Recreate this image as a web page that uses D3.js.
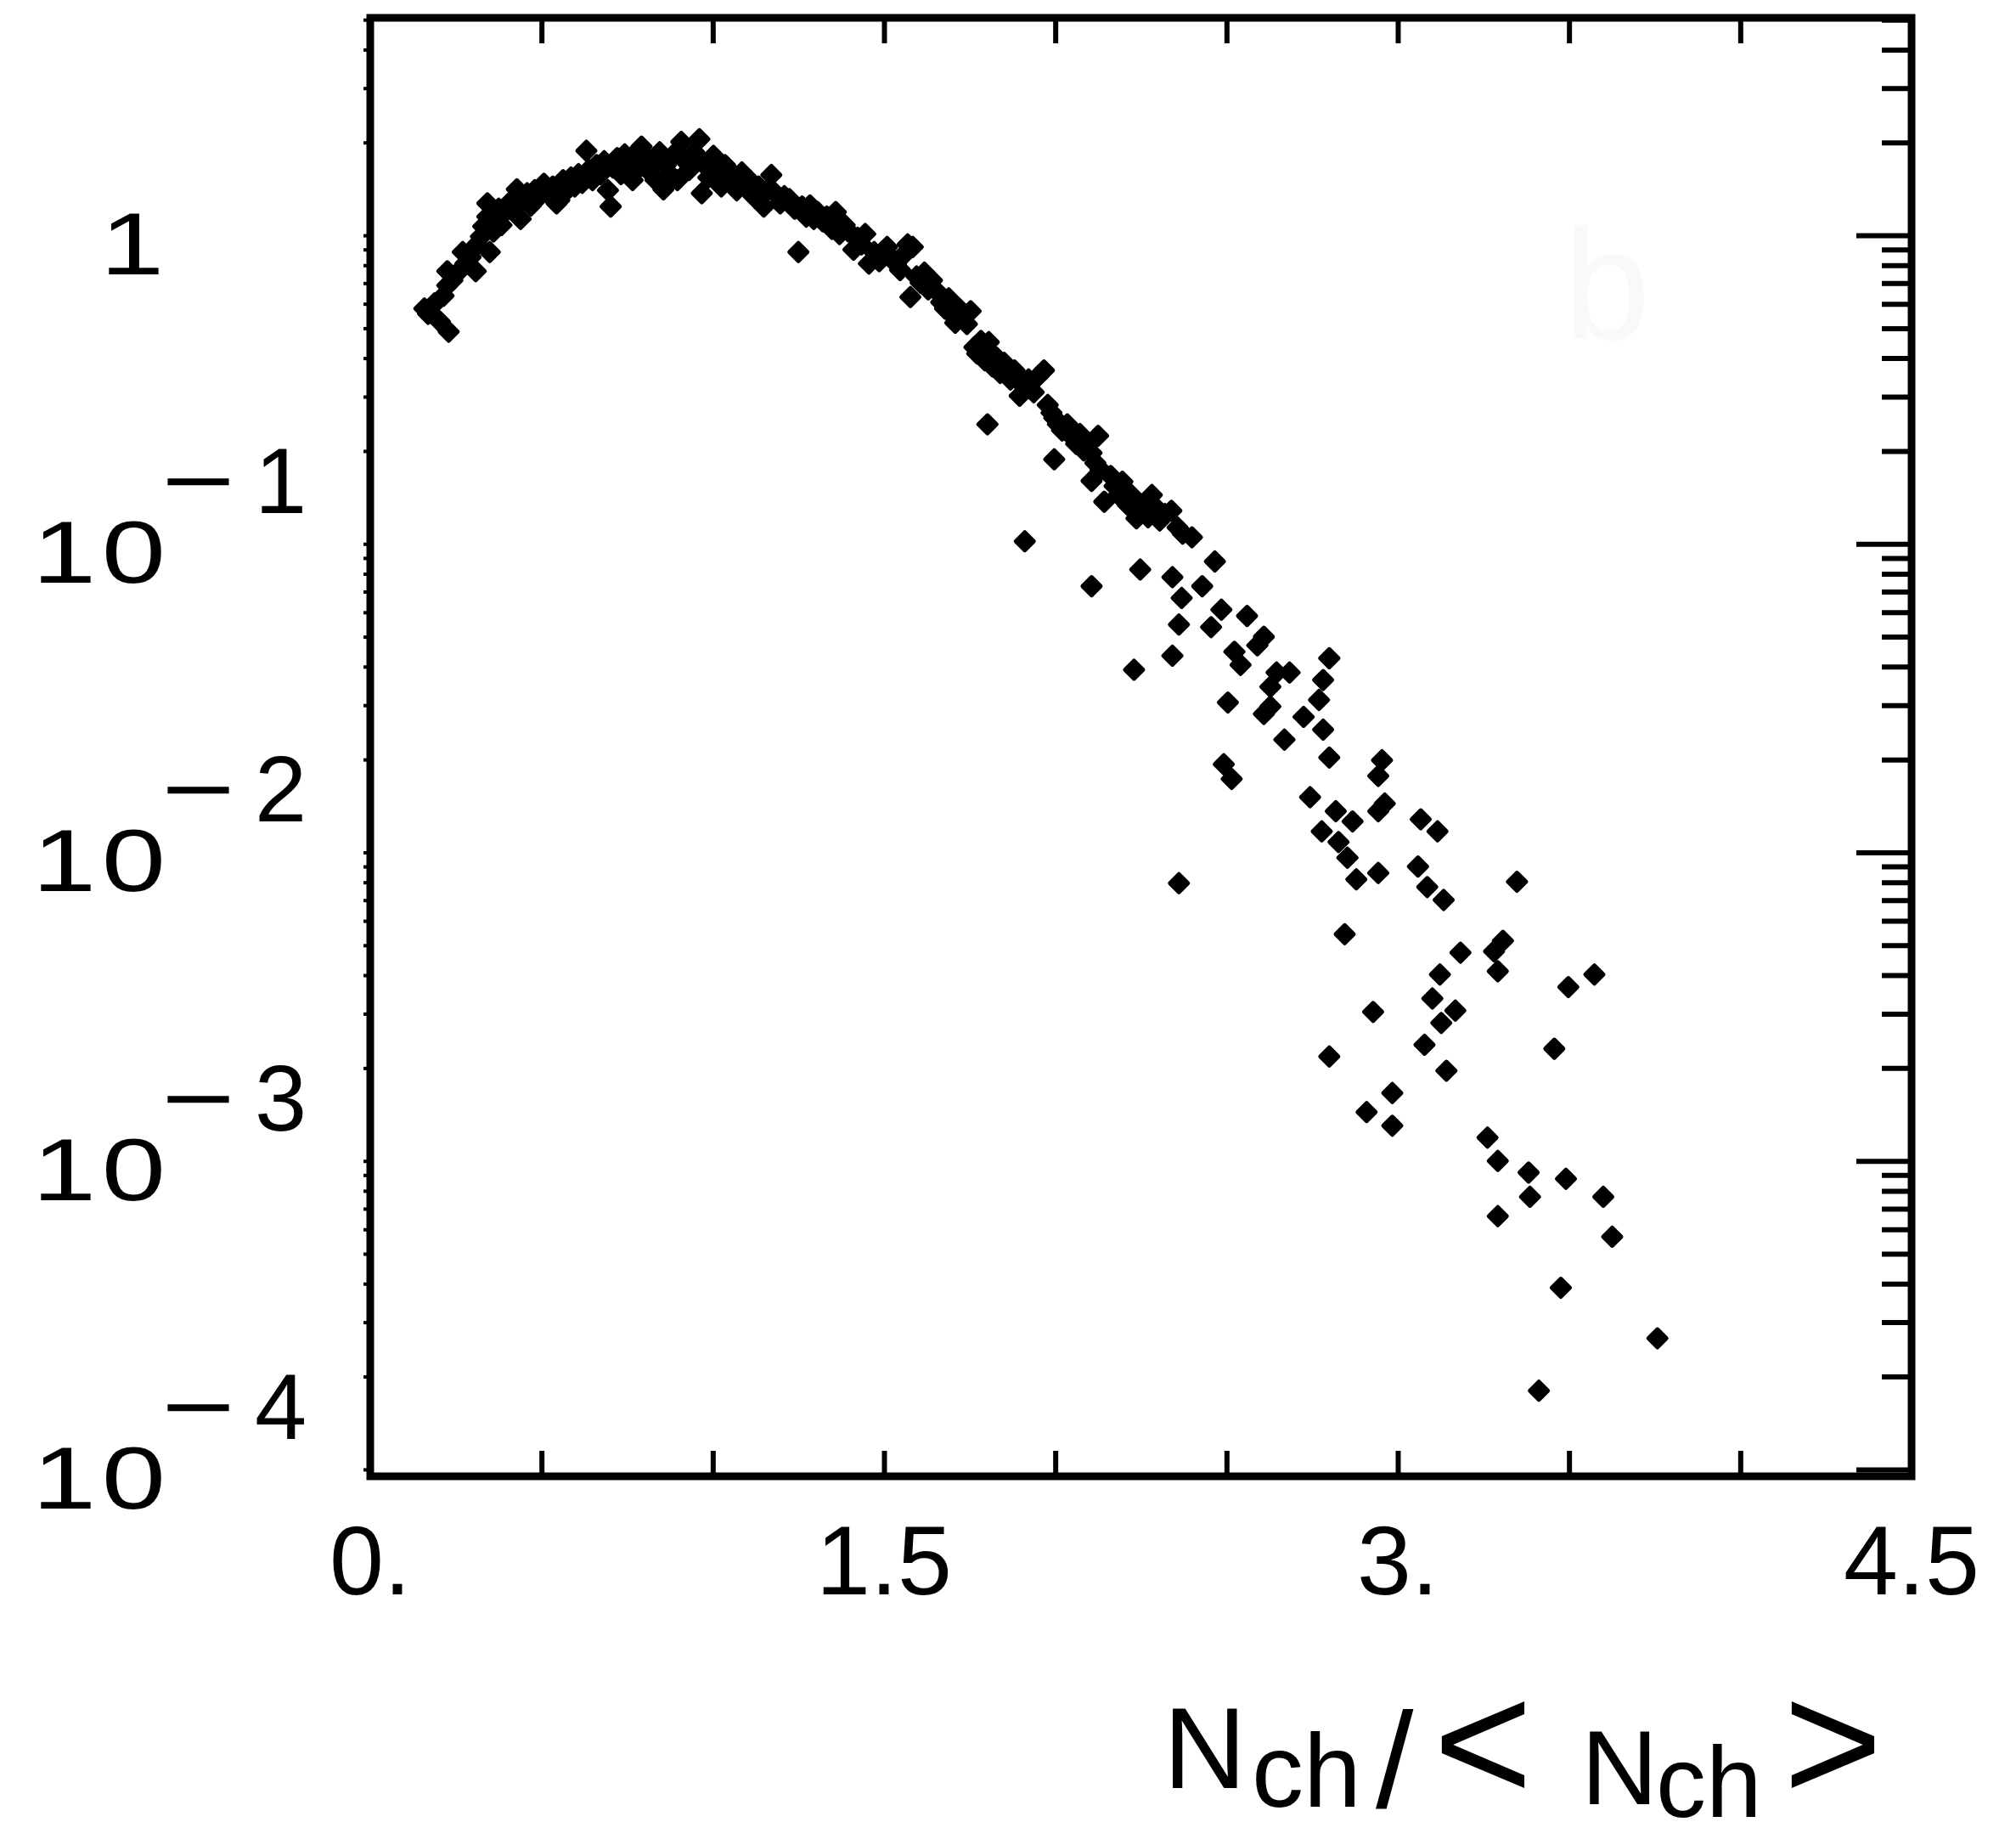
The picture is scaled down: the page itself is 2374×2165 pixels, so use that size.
<!DOCTYPE html>
<html>
<head>
<meta charset="utf-8">
<script src="https://cdn.jsdelivr.net/npm/d3@7/dist/d3.min.js"></script>
<style>
  body { margin: 0; background: #ffffff; }
  text { font-family: "Liberation Sans", Arial, sans-serif; fill: #000; }
</style>
</head>
<body>
<div id="chart_box"></div>
<script>
// N_ch / <N_ch> for each point
var xValues = [
  0.158, 0.169, 0.188, 0.203, 0.229, 0.214, 0.225, 0.240, 0.255, 0.225,
  0.270, 0.278, 0.293, 0.308, 0.312, 0.323, 0.330, 0.342, 0.342, 0.349, 0.360, 0.368, 0.375, 0.383,
  0.394, 0.405, 0.420, 0.428, 0.439, 0.447, 0.458, 0.469, 0.480, 0.492, 0.507,
  0.518, 0.533, 0.544, 0.552, 0.563, 0.574, 0.586, 0.597, 0.608, 0.619, 0.631, 0.638, 0.649, 0.661, 0.672, 0.683,
  0.694, 0.702, 0.709, 0.721, 0.732, 0.743, 0.755, 0.766, 0.777, 0.785, 0.792, 0.803, 0.815, 0.826, 0.833,
  0.845, 0.856, 0.863, 0.875, 0.886, 0.897, 0.908, 0.920, 0.931, 0.946, 0.961, 0.968, 0.976, 0.987, 1.002, 1.014,
  1.025, 1.036, 1.047, 1.059, 1.070, 1.085, 1.096, 1.107, 1.119, 1.134, 1.149, 1.160, 1.171, 1.182, 1.197, 1.209, 1.224,
  1.239, 1.250, 1.261, 1.273, 1.284, 1.295, 1.306, 1.321, 1.333, 1.348, 1.359, 1.370, 1.385, 1.396, 1.411, 1.423, 1.434, 1.445, 1.456, 1.471,
  1.486, 1.498, 1.509, 1.520, 1.535, 1.547, 1.558, 1.569, 1.577, 1.584, 1.595, 1.607, 1.618, 1.629, 1.640, 1.655, 1.667, 1.678, 1.689, 1.700, 1.708, 1.719, 1.730, 1.742, 1.753,
  1.764, 1.772, 1.783, 1.794, 1.806, 1.817, 1.828, 1.839, 1.851, 1.869, 1.881, 1.896, 1.907, 1.922, 1.937, 1.952, 1.967, 1.978, 1.989, 1.997, 2.008, 2.020, 2.035, 1.802,
  2.050, 2.061, 2.072, 2.083, 2.095, 2.106, 2.106, 2.117, 2.125, 2.132, 2.143, 2.162, 2.173, 2.185, 2.196, 2.211, 2.222, 2.237, 2.237, 2.248, 2.260, 2.271, 2.282, 2.294, 2.305, 2.320, 2.339, 2.357, 2.372, 2.399,
  1.997, 1.911, 2.106,
  2.248, 2.466, 2.342, 2.429, 2.369, 2.485, 2.560, 2.361, 2.455, 2.609, 2.590, 2.523, 2.541, 2.342, 2.230, 2.646, 2.684, 2.800,
  2.628, 2.782, 2.770, 2.504, 2.628, 2.609, 2.725, 2.782, 2.669, 2.800, 2.492, 2.515, 2.954, 2.943, 2.744, 2.962,
  2.819, 2.943, 2.868, 2.778, 2.827, 2.853, 2.879, 2.943, 3.067, 3.116, 3.059, 3.086, 3.134, 3.348, 2.845,
  3.307, 3.281, 3.292, 3.183, 3.123, 3.574, 3.498, 3.101, 3.168, 2.928, 3.127, 3.078, 3.142, 2.800, 3.457,
  2.984, 2.909, 2.984, 3.262, 3.292, 3.382, 3.491, 3.386, 3.600, 3.292, 3.626, 3.476, 3.758, 3.412, 2.361
];

// normalised probability for each point
var yValues = [
  0.579, 0.557, 0.602, 0.526, 0.487, 0.637, 0.688, 0.715, 0.757, 0.765,
  0.883, 0.810, 0.850, 0.765, 0.935, 0.991, 1.07, 1.15, 1.27, 0.883, 1.03, 1.13, 1.22, 1.08,
  1.19, 1.27, 1.25, 1.41, 1.13, 1.31, 1.37, 1.25, 1.40, 1.33, 1.47,
  1.37, 1.44, 1.27, 1.30, 1.51, 1.40, 1.54, 1.44, 1.58, 1.48, 1.88, 1.63, 1.51, 1.69, 1.58, 1.74,
  1.40, 1.24, 1.66, 1.78, 1.58, 1.83, 1.69, 1.51, 1.86, 1.66, 1.94, 1.80, 1.61, 1.74, 1.51,
  1.86, 1.41, 1.69, 1.58, 1.83, 1.51, 2.01, 1.74, 1.63, 1.86, 2.05, 1.37, 1.69, 1.54, 1.81, 1.63,
  1.44, 1.69, 1.51, 1.58, 1.40, 1.60, 1.44, 1.51, 1.34, 1.44, 1.24, 1.40, 1.57, 1.37, 1.27, 1.34, 1.31,
  1.22, 0.883, 1.24, 1.15, 1.25, 1.13, 1.19, 1.11, 1.15, 1.05, 1.19, 1.01, 1.08, 1.03, 0.899, 0.982, 0.935, 1.01, 0.810, 0.883,
  0.825, 0.891, 0.917, 0.850, 0.810, 0.772, 0.866, 0.935, 0.631, 0.917, 0.736, 0.701, 0.757, 0.668, 0.715, 0.656, 0.607, 0.579, 0.625, 0.552, 0.521, 0.579, 0.541, 0.516, 0.568,
  0.434, 0.414, 0.455, 0.394, 0.451, 0.376, 0.402, 0.358, 0.386, 0.341, 0.365, 0.302, 0.325, 0.341, 0.310, 0.351, 0.365, 0.282, 0.266, 0.256, 0.244, 0.233, 0.244, 0.244,
  0.222, 0.211, 0.227, 0.201, 0.211, 0.197, 0.160, 0.183, 0.224, 0.174, 0.137, 0.166, 0.154, 0.144, 0.159, 0.134, 0.144, 0.130, 0.121, 0.134, 0.128, 0.122, 0.144, 0.131, 0.119, 0.125, 0.128, 0.113, 0.108, 0.105,
  0.188, 0.102, 0.0729,
  0.0826, 0.0877, 0.0780, 0.0729, 0.0668, 0.0612, 0.0584, 0.0548, 0.0537, 0.0500, 0.0469, 0.0447, 0.0405, 0.0434, 0.0391, 0.0383, 0.0383, 0.0426,
  0.0344, 0.0362, 0.0312, 0.0306, 0.0297, 0.0281, 0.0275, 0.0250, 0.0232, 0.0203, 0.0193, 0.0173, 0.0199, 0.0177, 0.0151, 0.0144,
  0.0136, 0.0136, 0.0126, 0.0117, 0.0108, 0.00961, 0.00818, 0.00858, 0.0128, 0.0117, 0.00900, 0.00772, 0.00701, 0.00803, 0.00543,
  0.00517, 0.00478, 0.00412, 0.00473, 0.00402, 0.00402, 0.00366, 0.00336, 0.00307, 0.00304, 0.00280, 0.00238, 0.00196, 0.00218, 0.00231,
  0.00166, 0.00144, 0.00130, 0.00119, 0.00100, 0.000917, 0.000875, 0.000765, 0.000765, 0.000662, 0.000568, 0.000388, 0.000266, 0.000180, 0.00795
];

var xTickValues = [0, 1.5, 3, 4.5];
var xTickLabels = ["0.", "1.5", "3.", "4.5"];
var yTickValues = [1, 1e-1, 1e-2, 1e-3, 1e-4];
var yTickExponents = ["", "1", "2", "3", "4"];

// page size and margins (frame of the plot)
var margin = { top: 21, right: 123, bottom: 427, left: 436 },
    width = 2374 - margin.left - margin.right,
    height = 2165 - margin.top - margin.bottom;

var svg = d3.select("#chart_box").append("svg")
    .attr("width", width + margin.left + margin.right)
    .attr("height", height + margin.top + margin.bottom)
    .style("background-color", "#ffffff");

var g = svg.append("g")
    .attr("transform", "translate(" + margin.left + "," + margin.top + ")");

var x = d3.scaleLinear().domain([0, 4.5]).range([0, width]);
var y = d3.scaleLog().domain([9.5e-5, 5.07]).range([height, 0]);

// faint left-over "b" panel mark
g.append("text")
    .attr("x", x(3.61))
    .attr("y", y(0.46))
    .attr("text-anchor", "middle")
    .style("font-size", "185px")
    .style("fill", "#f9f9f9")
    .text("b");

var points = xValues.map(function (d, i) { return { x: d, y: yValues[i] }; });

// data markers: small rounded diamonds
var r = 10.5;
g.selectAll(".pt")
    .data(points)
    .enter().append("path")
    .attr("class", "pt")
    .attr("d", "M0," + (-r) + "L" + r + ",0L0," + r + "L" + (-r) + ",0Z")
    .attr("transform", function (d) { return "translate(" + x(d.x) + "," + y(d.y) + ")"; })
    .style("fill", "#000")
    .style("stroke", "#000")
    .style("stroke-width", 5)
    .style("stroke-linejoin", "round");

function clean(sel) {
    sel.select(".domain").remove();
    sel.selectAll(".tick line").style("stroke", "#000").style("stroke-width", 6);
    sel.selectAll(".tick text").remove();
}

var xTicks = d3.range(0, 4.51, 0.5);

// bottom and top ticks, pointing inward
g.append("g")
    .attr("transform", "translate(0," + height + ")")
    .call(d3.axisBottom(x).tickValues(xTicks).tickSize(-30))
    .call(clean);
g.append("g")
    .call(d3.axisTop(x).tickValues(xTicks).tickSize(-30))
    .call(clean);

// right log axis: major and minor ticks pointing inward
var minorY = y.ticks().filter(function (v) {
    var m = v / Math.pow(10, Math.floor(Math.log10(v) + 1e-9));
    return Math.abs(m - 1) > 1e-6;
});
g.append("g")
    .attr("transform", "translate(" + width + ",0)")
    .call(d3.axisRight(y).tickValues(yTickValues).tickSize(-65))
    .call(clean);
g.append("g")
    .attr("transform", "translate(" + width + ",0)")
    .call(d3.axisRight(y).tickValues(minorY).tickSize(-35))
    .call(clean);

// left axis: tiny outer notches
g.append("g")
    .call(d3.axisLeft(y).tickValues(yTickValues.concat(minorY)).tickSize(8))
    .call(clean)
    .selectAll(".tick line").style("stroke-width", 4);

// frame
g.append("rect")
    .attr("x", 0).attr("y", 0)
    .attr("width", width).attr("height", height)
    .style("fill", "none")
    .style("stroke", "#000")
    .style("stroke-width", 9);

// x tick labels
g.selectAll(".xlab")
    .data(xTickValues)
    .enter().append("text")
    .attr("class", "xlab")
    .attr("x", function (d) { return x(d); })
    .attr("y", height + 139)
    .attr("text-anchor", "middle")
    .style("font-size", "115px")
    .text(function (d, i) { return xTickLabels[i]; });

// y tick labels: "1" and 10^-n, wide digits
var ylab = g.selectAll(".ylab")
    .data(yTickValues)
    .enter().append("g")
    .attr("class", "ylab")
    .attr("transform", function (d) { return "translate(0," + y(d) + ")"; });

ylab.append("g")
    .attr("transform", function (d, i) {
        return "translate(" + (i === 0 ? -318 : -398) + ",46) scale(1.3,1)";
    })
    .append("text")
    .attr("letter-spacing", 5)
    .style("font-size", "104px")
    .text(function (d, i) { return i === 0 ? "1" : "10"; });

var sup = ylab.filter(function (d, i) { return i > 0; });
sup.append("g")
    .attr("transform", "translate(-246,-36) scale(1.35,1)")
    .append("text")
    .style("font-size", "110px")
    .text("\u2212");
sup.append("text")
    .attr("x", -136)
    .attr("y", -36)
    .style("font-size", "110px")
    .text(function (d) { return yTickExponents[yTickValues.indexOf(d)]; });

// hand-written axis title  N_ch / < N_ch >
var title = svg.append("g").attr("class", "xtitle");
var titleParts = [
    { t: "N",  x: 1370, y: 2105, s: 135 },
    { t: "ch", x: 1474, y: 2127, s: 122 },
    { t: "/",  x: 1620, y: 2128, s: 160 },
    { t: "<",  x: 1688, y: 2120, s: 200 },
    { t: "N",  x: 1862, y: 2124, s: 125 },
    { t: "ch", x: 1950, y: 2139, s: 118 },
    { t: ">",  x: 2100, y: 2120, s: 200 }
];
title.selectAll("text")
    .data(titleParts)
    .enter().append("text")
    .attr("x", function (d) { return d.x; })
    .attr("y", function (d) { return d.y; })
    .style("font-size", function (d) { return d.s + "px"; })
    .text(function (d) { return d.t; });
</script>
</body>
</html>
